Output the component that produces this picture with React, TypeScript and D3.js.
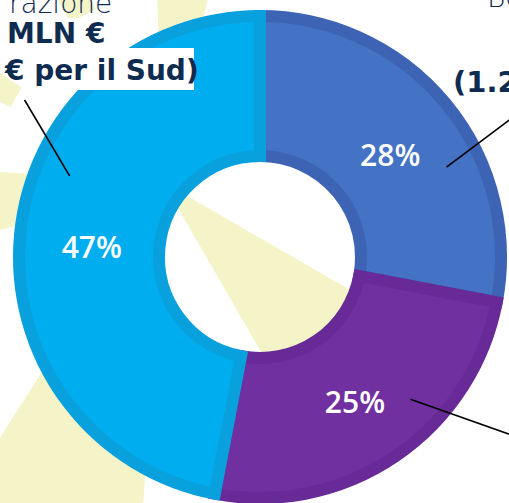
import React from "react";
import * as d3 from "d3";

// ---- data ----
const categories = ["Quota A", "Quota B", "Quota C"];
const shares = [28, 25, 47];
const shareLabels = ["28%", "25%", "47%"];
const fillColors = ["#4472C4", "#7030A0", "#00AEEF"];
const strokeColors = ["#3D64B4", "#672A96", "#08A1DE"];

// leader lines: inner angle (deg clockwise from 12 o'clock), outer angle, outer radius
const leaderInnerAngles = [64.3, 133.4, 293.1];
const leaderOuterAngles = [61, 125.1, 303.7];
const leaderOuterRadii = [292, 312, 283];

// background sun-ray decoration (angle deg in svg coords, half spread, start radius, end radius)
const rayAngles = [45, 108, 173.5, 210, 244.2, 276];
const raySpreads = [15, 14.5, 10, 3.8, 4.3, 7.8];
const rayStarts = [0, 0, 0, 170, 185, 0];
const rayEnds = [250, 520, 520, 520, 520, 520];

const W = 509;
const H = 503;
const cx = 260;
const cy = 257;
const outerR = 241;
const innerR = 101;
const rayC: [number, number] = [163, 182];

function rayPath(angle: number, spread: number, r0: number, r1: number) {
  const a0 = ((angle - spread) * Math.PI) / 180;
  const a1 = ((angle + spread) * Math.PI) / 180;
  const p = d3.path();
  p.moveTo(rayC[0] + r0 * Math.cos(a0), rayC[1] + r0 * Math.sin(a0));
  p.lineTo(rayC[0] + r1 * Math.cos(a0), rayC[1] + r1 * Math.sin(a0));
  p.lineTo(rayC[0] + r1 * Math.cos(a1), rayC[1] + r1 * Math.sin(a1));
  p.lineTo(rayC[0] + r0 * Math.cos(a1), rayC[1] + r0 * Math.sin(a1));
  p.closePath();
  return p.toString();
}

function polar(angleDeg: number, r: number): [number, number] {
  const a = (angleDeg * Math.PI) / 180;
  return [cx + r * Math.sin(a), cy - r * Math.cos(a)];
}

export default function App() {
  const data = categories.map((c, i) => ({ c, v: shares[i], i }));
  const pie = d3
    .pie<{ c: string; v: number; i: number }>()
    .sort(null)
    .value((d) => d.v);
  const arcs = pie(data);
  const arc = d3
    .arc<d3.PieArcDatum<{ c: string; v: number; i: number }>>()
    .innerRadius(innerR)
    .outerRadius(outerR);
  const labelArc = d3
    .arc<d3.PieArcDatum<{ c: string; v: number; i: number }>>()
    .innerRadius(169)
    .outerRadius(169);

  const navy = "#0E2B50";

  return (
    <svg
      width={W}
      height={H}
      style={{ position: "absolute", left: 0, top: 0, display: "block", background: "#fff" }}
    >
      <rect width={W} height={H} fill="#ffffff" />
      {/* background rays */}
      {rayAngles.map((a, i) => (
        <path
          key={"ray" + i}
          d={rayPath(a, raySpreads[i], rayStarts[i], rayEnds[i])}
          fill="#F4F4C8"
        />
      ))}

      {/* donut */}
      <g transform={`translate(${cx},${cy})`}>
        {arcs.map((a, i) => (
          <path
            key={"s" + i}
            d={arc(a) || ""}
            fill={fillColors[i]}
            stroke={strokeColors[i]}
            strokeWidth={12}
            strokeLinejoin="miter"
          />
        ))}
        {arcs.map((a, i) => {
          const [lx, ly] = labelArc.centroid(a);
          return (
            <text
              key={"l" + i}
              x={lx}
              y={ly + 5}
              textAnchor="middle"
              dominantBaseline="central"
              fontFamily="Open Sans"
              fontWeight={600}
              fontSize={30}
              fill="#ffffff"
            >
              {shareLabels[i]}
            </text>
          );
        })}
      </g>

      {/* leader lines */}
      {leaderInnerAngles.map((a, i) => {
        const [x1, y1] = polar(a, 207);
        const [x2, y2] = polar(leaderOuterAngles[i], leaderOuterRadii[i]);
        return <line key={"ld" + i} x1={x1} y1={y1} x2={x2} y2={y2} stroke="#000" strokeWidth={1.6} />;
      })}

      {/* text boxes (white-filled, above the chart) */}
      <rect x={30} y={18} width={82} height={30} fill="#ffffff" />
      <rect x={22} y={48} width={172} height={42} fill="#ffffff" />

      {/* title fragments */}
      <text x={9} y={13} fontFamily="DejaVu Sans" fontWeight={200} fontSize={28} fill={navy}>
        razione
      </text>
      <text x={7} y={43} fontFamily="DejaVu Sans" fontWeight={700} fontSize={28} fill={navy}>
        MLN €
      </text>
      <text x={5} y={80} fontFamily="DejaVu Sans" fontWeight={700} fontSize={28} fill={navy}>
        € per il Sud)
      </text>
      <text x={487} y={7} fontFamily="DejaVu Sans" fontWeight={200} fontSize={28} fill={navy}>
        Bo
      </text>
      <text x={453} y={92} fontFamily="DejaVu Sans" fontWeight={700} fontSize={29} fill={navy}>
        (1.2
      </text>
    </svg>
  );
}
